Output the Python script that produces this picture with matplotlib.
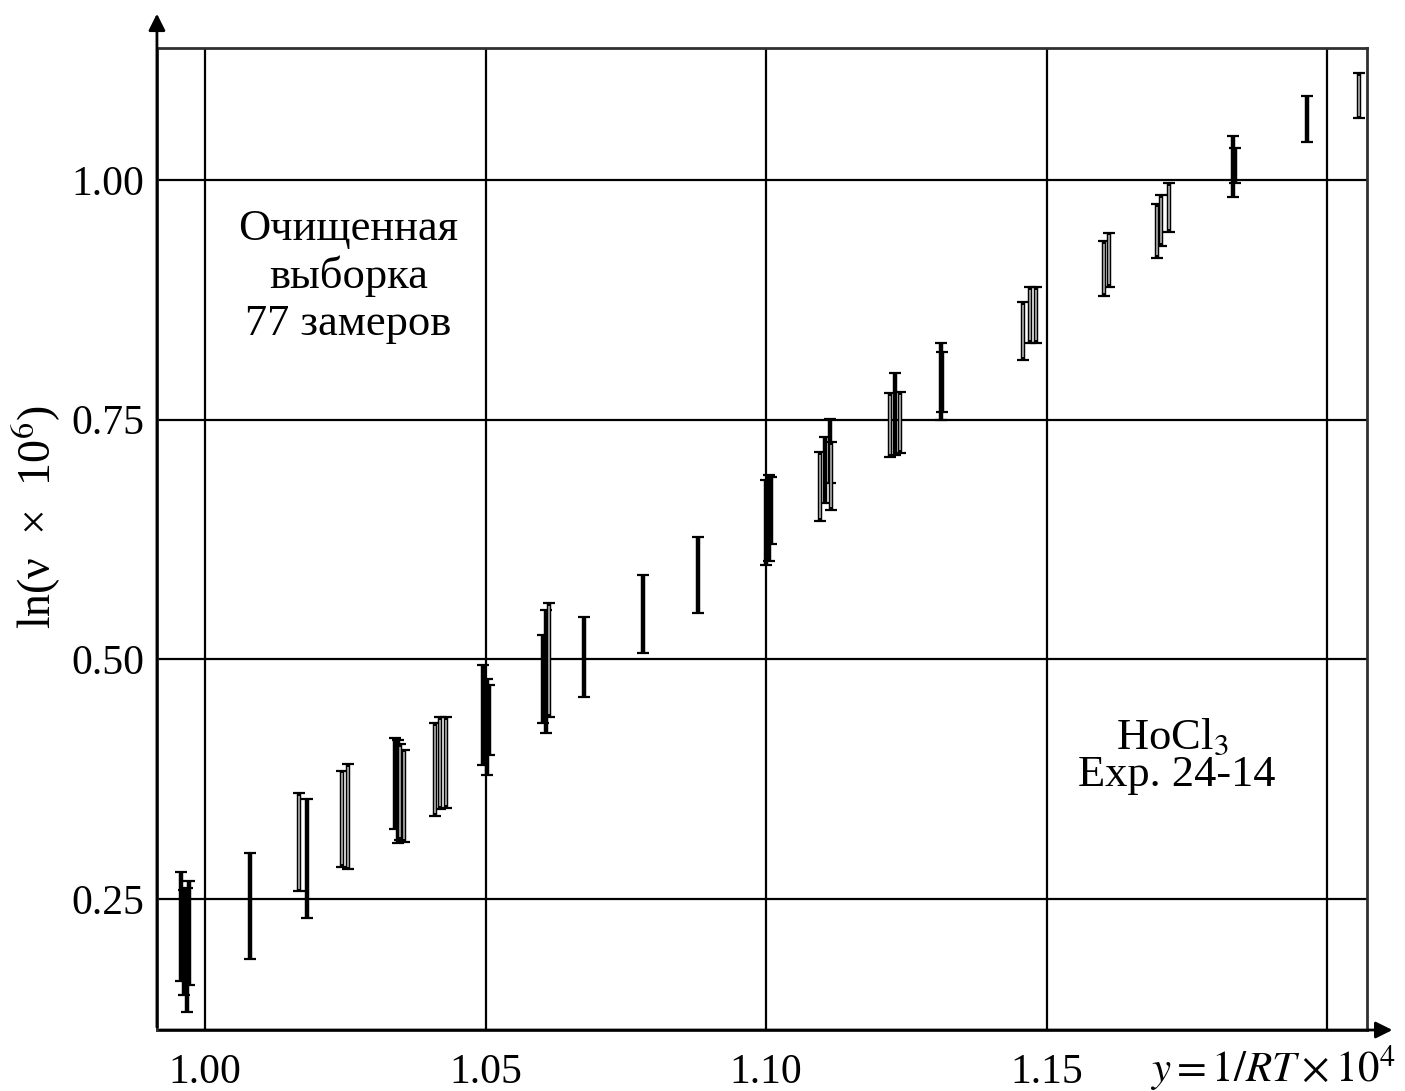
import matplotlib.pyplot as plt
from matplotlib.patches import FancyArrowPatch

plt.rcParams['font.family'] = ['Liberation Serif', 'DejaVu Serif']
plt.rcParams['mathtext.fontset'] = 'stix'

# error bars: x position, lower and upper value of ln(v*1e6)
x = [0.9957, 0.9963, 0.9968, 0.9971,
     1.0079,
     1.0168, 1.0182,
     1.0243, 1.0255,
     1.0339, 1.0343, 1.0348, 1.0354,
     1.0409, 1.0418, 1.0430,
     1.0496, 1.0502, 1.0505,
     1.0602, 1.0607, 1.0613,
     1.0675,
     1.0780,
     1.0879,
     1.1000, 1.1005, 1.1009,
     1.1096, 1.1105, 1.1114, 1.1116,
     1.1220, 1.1230, 1.1239,
     1.1311, 1.1313,
     1.1457, 1.1470, 1.1480,
     1.1602, 1.1611,
     1.1696, 1.1704, 1.1718,
     1.1832, 1.1836,
     1.1964,
     1.2057]
y_low = [0.165, 0.150, 0.132, 0.160,
         0.188,
         0.258, 0.230,
         0.284, 0.281,
         0.323, 0.308, 0.312, 0.310,
         0.337, 0.344, 0.345,
         0.390, 0.379, 0.400,
         0.434, 0.423, 0.440,
         0.461,
         0.507,
         0.548,
         0.598, 0.603, 0.620,
         0.644, 0.663, 0.684, 0.656,
         0.711, 0.713, 0.715,
         0.750, 0.758,
         0.812, 0.830, 0.830,
         0.879, 0.888,
         0.919, 0.931, 0.946,
         0.982, 0.997,
         1.040,
         1.064]
y_high = [0.278, 0.260, 0.262, 0.269,
          0.298,
          0.361, 0.354,
          0.384, 0.391,
          0.418, 0.416, 0.412, 0.406,
          0.434, 0.440, 0.440,
          0.494, 0.480, 0.473,
          0.525, 0.551, 0.559,
          0.544,
          0.588,
          0.628,
          0.687, 0.692, 0.690,
          0.716, 0.732, 0.751, 0.727,
          0.778, 0.799, 0.779,
          0.830, 0.820,
          0.873, 0.888, 0.888,
          0.936, 0.945,
          0.975, 0.984, 0.997,
          1.046, 1.033,
          1.087,
          1.111]
# which bars print as solid black (others are hollow/grey)
solid = [1, 1, 1, 1,
         1,
         0, 1,
         0, 0,
         1, 1, 0, 0,
         0, 0, 0,
         1, 1, 1,
         1, 1, 0,
         1,
         1,
         1,
         1, 1, 1,
         0, 1, 1, 0,
         0, 1, 0,
         1, 1,
         0, 0, 0,
         0, 0,
         0, 0, 0,
         1, 1,
         1,
         0]

x_ticks = [1.00, 1.05, 1.10, 1.15, 1.20]
x_tick_labels = ['1.00', '1.05', '1.10', '1.15', '']
y_ticks = [0.25, 0.50, 0.75, 1.00]
y_tick_labels = ['0.25', '0.50', '0.75', '1.00']

fig = plt.figure(figsize=(14.05, 10.91), dpi=100)
ax = fig.add_axes([0.1117, 0.0559, 0.8613, 0.9001])

ax.set_xlim(0.9914, 1.2071)
ax.set_ylim(0.1135, 1.1375)

# grid
for xv in x_ticks:
    ax.axvline(xv, color='black', lw=1.6, zorder=1)
for yv in y_ticks:
    ax.axhline(yv, color='black', lw=1.6, zorder=1)

# error bars
for xi, lo, hi, s in zip(x, y_low, y_high, solid):
    ax.errorbar(xi, (lo + hi) / 2, yerr=[[(hi - lo) / 2], [(hi - lo) / 2]],
                fmt='none', ecolor='black', elinewidth=3.2, capsize=4,
                capthick=1.6, zorder=3)
    if not s:
        ax.vlines(xi, lo + 0.003, hi - 0.003, color='#b0b0b0', lw=1.2, zorder=4)

ax.set_xticks(x_ticks)
ax.set_xticklabels(x_tick_labels)
ax.set_yticks(y_ticks)
ax.set_yticklabels(y_tick_labels)
ax.tick_params(length=0, labelsize=30)
ax.tick_params(axis='x', pad=17)
ax.tick_params(axis='y', pad=9)
for sp in ax.spines.values():
    sp.set_linewidth(2)
    sp.set_color('#303030')

ax.set_ylabel('ln(ν  ×  10$^{6}$)', fontsize=33)
ax.yaxis.set_label_coords(-0.077, 0.522)

ax.text(1.0255, 0.970, 'Очищенная\nвыборка\n77 замеров', ha='center', va='top',
        fontsize=32, linespacing=1.22)
ax.text(1.1723, 0.418, 'HoCl$_3$', ha='center', va='center', fontsize=32)
ax.text(1.1732, 0.379, 'Exp. 24-14', ha='center', va='center', fontsize=32)

# axis arrows
fig.patches.append(FancyArrowPatch(
    (0.1117, 0.0559), (0.1117, 0.99), transform=fig.transFigure,
    arrowstyle='-|>', mutation_scale=25, lw=2, color='black'))
fig.patches.append(FancyArrowPatch(
    (0.1117, 0.0559), (0.993, 0.0559), transform=fig.transFigure,
    arrowstyle='-|>', mutation_scale=25, lw=2, color='black'))

fig.text(0.993, 0.021, r'$y = 1/RT \times 10^4$', ha='right', va='center',
         fontsize=31)

fig.savefig('out.png', dpi=100)
